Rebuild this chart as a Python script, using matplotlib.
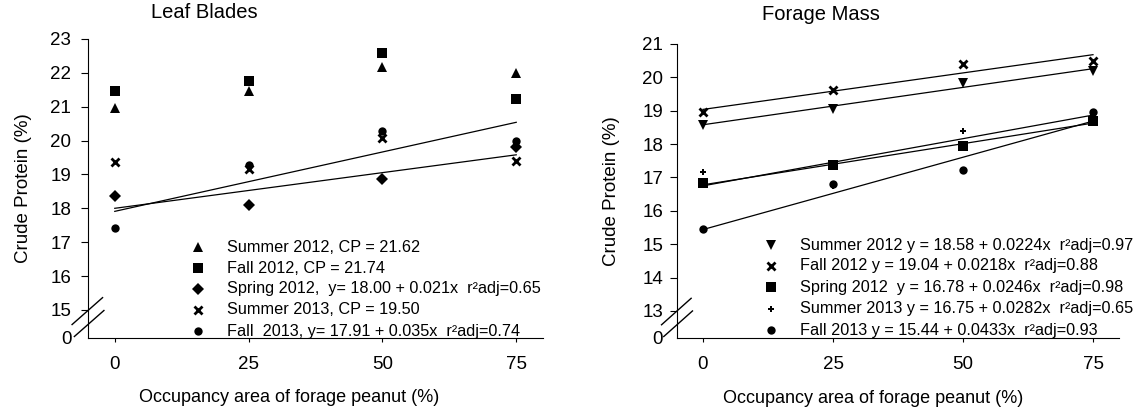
import matplotlib
matplotlib.use('Agg')
import matplotlib.pyplot as plt
from matplotlib.lines import Line2D

plt.rcParams['font.family'] = ['Liberation Sans', 'DejaVu Sans']

x_levels = [0, 25, 50, 75]

# Leaf blades, crude protein (%)
leaf_summer12 = [20.95, 21.45, 22.18, 22.0]
leaf_fall12 = [21.45, 21.75, 22.58, 21.22]
leaf_spring12 = [18.36, 18.10, 18.86, 19.82]
leaf_summer13 = [19.36, 19.17, 20.07, 19.40]
leaf_fall13 = [17.43, 19.28, 20.27, 20.00]
# fitted lines (value at x=0 and x=75)
leaf_fit_spring12 = [18.00, 19.58]
leaf_fit_fall13 = [17.91, 20.54]

# Forage mass, crude protein (%)
fm_summer12 = [18.58, 19.06, 19.82, 20.18]
fm_fall12 = [18.95, 19.63, 20.41, 20.50]
fm_spring12 = [16.83, 17.37, 17.93, 18.70]
fm_summer13 = [17.16, 16.75, 18.40, 18.90]
fm_fall13 = [15.46, 16.80, 17.22, 18.95]
fm_fit_summer12 = [18.58, 20.26]
fm_fit_fall12 = [19.04, 20.68]
fm_fit_spring12 = [16.78, 18.63]
fm_fit_summer13 = [16.75, 18.87]
fm_fit_fall13 = [15.44, 18.69]

leaf_labels = ['Summer 2012, CP = 21.62',
               'Fall 2012, CP = 21.74',
               'Spring 2012,  y= 18.00 + 0.021x  r\u00b2adj=0.65',
               'Summer 2013, CP = 19.50',
               'Fall  2013, y= 17.91 + 0.035x  r\u00b2adj=0.74']
fm_labels = ['Summer 2012 y = 18.58 + 0.0224x  r\u00b2adj=0.97',
             'Fall 2012 y = 19.04 + 0.0218x  r\u00b2adj=0.88',
             'Spring 2012  y = 16.78 + 0.0246x  r\u00b2adj=0.98',
             'Summer 2013 y = 16.75 + 0.0282x  r\u00b2adj=0.65',
             'Fall 2013 y = 15.44 + 0.0433x  r\u00b2adj=0.93']

W, H = 1139, 416
fig = plt.figure(figsize=(W / 100, H / 100), dpi=100)

ax1 = fig.add_axes([88 / W, 1 - 338 / H, 455 / W, 299 / H])
ax2 = fig.add_axes([677 / W, 1 - 338 / H, 442 / W, 294 / H])

ms = {'^': 7.5, 's': 7, 'D': 6.5, 'x': 6, 'o': 6, 'v': 7.5}


def marker_kw(m):
    if m == '+':
        return dict(marker='P', ms=5, mew=0)
    if m == 'x':
        return dict(marker='x', ms=ms[m], mew=2)
    return dict(marker=m, ms=ms[m], mew=0)


def draw_markers(ax, series, markers):
    for vals, m in zip(series, markers):
        ax.plot(x_levels, vals, linestyle='none', color='black', **marker_kw(m))


def legend_rows(ax, labels, markers, xm, xt, rows):
    for lab, m, yy in zip(labels, markers, rows):
        ax.plot([xm], [yy], transform=ax.transAxes, color='black',
                clip_on=False, **marker_kw(m))
        ax.text(xt, yy, lab, transform=ax.transAxes, fontsize=11.7,
                va='center', ha='left')


def style_axis(ax, ylo, ticks, ypad, ylabelpad, xlab_y):
    ax.set_xlim(-5, 80)
    ax.set_ylim(ylo, ticks[-1])
    ax.spines['top'].set_visible(False)
    ax.spines['right'].set_visible(False)
    ax.set_xticks(x_levels)
    ax.set_yticks([ylo] + ticks)
    ax.set_yticklabels(['0'] + [str(t) for t in ticks])
    ax.tick_params(axis='x', direction='out', length=3, pad=10, labelsize=13.5)
    ax.tick_params(axis='y', direction='out', length=5, pad=ypad, labelsize=13.5)
    ax.yaxis.get_major_ticks()[0].tick1line.set_visible(False)
    ax.set_xlabel('Occupancy area of forage peanut (%)', fontsize=13)
    ax.xaxis.set_label_coords(0.443, xlab_y)
    ax.set_ylabel('Crude Protein (%)', fontsize=13.5, labelpad=ylabelpad)
    # axis break marks
    ax.add_line(Line2D([-0.035, 0.032], [0.045, 0.135], transform=ax.transAxes,
                       color='black', lw=1, clip_on=False))
    ax.add_line(Line2D([-0.030, 0.035], [0.005, 0.092], transform=ax.transAxes,
                       color='black', lw=1, clip_on=False))


# Leaf blades
style_axis(ax1, 14.17, list(range(15, 24)), 7, 13, -0.172)
leaf_markers = ['^', 's', 'D', 'x', 'o']
draw_markers(ax1, [leaf_summer12, leaf_fall12, leaf_spring12, leaf_summer13,
                   leaf_fall13], leaf_markers)
ax1.plot([0, 75], leaf_fit_spring12, color='black', lw=0.9)
ax1.plot([0, 75], leaf_fit_fall13, color='black', lw=0.9)
legend_rows(ax1, leaf_labels, leaf_markers, 0.242, 0.305,
            [0.304, 0.234, 0.164, 0.094, 0.023])
ax1.text(0.255, 1.09, 'Leaf Blades', transform=ax1.transAxes, fontsize=14.5,
         ha='center', va='center')

# Forage mass
style_axis(ax2, 12.19, list(range(13, 22)), 5, 16, -0.178)
fm_markers = ['v', 'x', 's', '+', 'o']
draw_markers(ax2, [fm_summer12, fm_fall12, fm_spring12, fm_summer13,
                   fm_fall13], fm_markers)
for fit in [fm_fit_summer12, fm_fit_fall12, fm_fit_spring12, fm_fit_summer13,
            fm_fit_fall13]:
    ax2.plot([0, 75], fit, color='black', lw=0.9)
legend_rows(ax2, fm_labels, fm_markers, 0.213, 0.278,
            [0.316, 0.245, 0.173, 0.099, 0.027])
ax2.text(0.326, 1.10, 'Forage Mass', transform=ax2.transAxes, fontsize=14.5,
         ha='center', va='center')

fig.savefig('out.png', dpi=100)
